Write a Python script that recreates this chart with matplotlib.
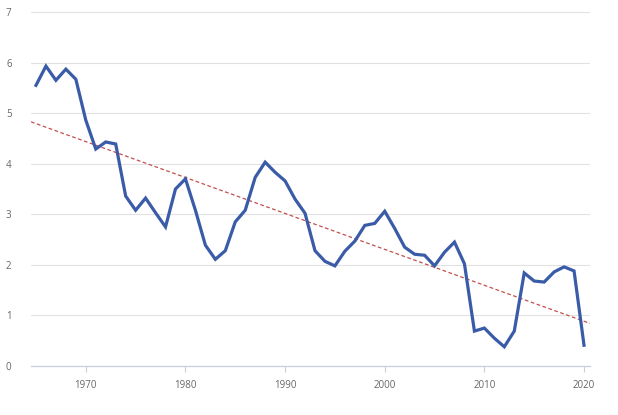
import numpy as np
import matplotlib.pyplot as plt

years = list(range(1965, 2021))
values = [5.55, 5.93, 5.65, 5.87, 5.67, 4.86, 4.29, 4.43, 4.39, 3.36,
          3.08, 3.32, 3.03, 2.75, 3.50, 3.70, 3.08, 2.39, 2.11, 2.28,
          2.85, 3.08, 3.73, 4.03, 3.83, 3.66, 3.30, 3.02, 2.28, 2.07,
          1.98, 2.27, 2.47, 2.78, 2.82, 3.06, 2.72, 2.35, 2.21, 2.19,
          1.98, 2.25, 2.45, 2.02, 0.69, 0.75, 0.55, 0.38, 0.69, 1.84,
          1.68, 1.66, 1.86, 1.96, 1.88, 0.41]
x_ticks = [1970, 1980, 1990, 2000, 2010, 2020]
y_ticks = [0, 1, 2, 3, 4, 5, 6, 7]

plt.rcParams['font.family'] = ['Open Sans', 'DejaVu Sans']

fig = plt.figure(figsize=(6.18, 4.15), dpi=100)
ax = fig.add_axes([31 / 618, 1 - 366 / 415, 559 / 618, 354 / 415])

x0, x1 = 1964.5, 2020.6
ax.set_xlim(x0, x1)
ax.set_ylim(0, 7)

# tendencia lineal
coef = np.polyfit(years, values, 1)
xt = np.array([x0, x1])
ax.plot(xt, np.polyval(coef, xt), color='#c0504d', lw=0.9, ls=(0, (3, 2)), zorder=2)

ax.plot(years, values, color='#3a5ca8', lw=2.3, solid_joinstyle='miter', zorder=3)

ax.set_yticks(y_ticks)
ax.set_xticks(x_ticks)
ax.grid(axis='y', color='#e2e2e2', lw=0.8)
ax.set_axisbelow(True)

for s in ['top', 'right', 'left']:
    ax.spines[s].set_visible(False)
ax.spines['bottom'].set_color('#c9cedf')
ax.spines['bottom'].set_linewidth(0.9)

ax.tick_params(axis='y', length=0, pad=14, labelsize=7, labelcolor='#666666')
ax.tick_params(axis='x', length=4, width=0.8, color='#c9cedf', pad=6,
               labelsize=7, labelcolor='#666666')
for lab in ax.get_yticklabels():
    lab.set_horizontalalignment('right')

fig.savefig('out.png', dpi=100)
